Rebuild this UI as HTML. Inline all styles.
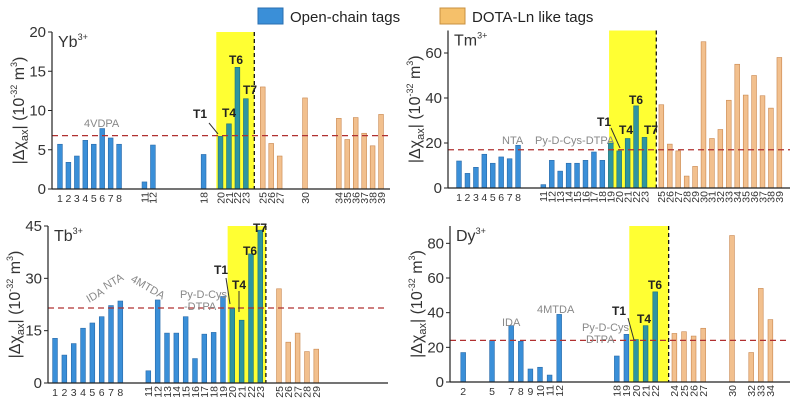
<!DOCTYPE html>
<html><head><meta charset="utf-8"><style>
body{margin:0;background:#fff;}
svg{display:block;font-family:"Liberation Sans",Arial,sans-serif;}
</style></head><body>
<svg id="fig" width="800" height="404" viewBox="0 0 800 404">
  <g>
    <rect x="258" y="8" width="25" height="16" fill="#3a8fd8" stroke="#2a6fb0"/>
    <text x="290" y="22" font-size="15" fill="#222">Open-chain tags</text>
    <rect x="440" y="8" width="25" height="16" fill="#f5c06a" stroke="#c89040"/>
    <text x="472" y="22" font-size="15" fill="#222">DOTA-Ln like tags</text>
  </g>
</svg>
<script>
// ---- data ----
const ybCats = [1,2,3,4,5,6,7,8,11,12,18,20,21,22,23,25,26,27,30,34,35,36,37,38,39];
const ybVals = [5.7,3.4,4.2,6.2,5.7,7.7,6.5,5.7,0.9,5.6,4.4,6.7,8.3,15.5,11.5,13,5.8,4.2,11.6,9,6.3,9.1,7.1,5.5,9.5];
const tmCats = [1,2,3,4,5,6,7,8,11,12,13,14,15,16,17,18,19,20,21,22,23,25,26,27,28,29,30,31,32,33,34,35,36,37,38,39];
const tmVals = [12,6.5,9.2,15,11,13.8,13,19,1.5,12.3,7.5,11,11,12.3,16,12.3,20,16.5,22,36.5,22.5,37,19.5,16.5,5.3,9.6,65,22,26,39,55,41.3,50,41,35.5,58];
const tbCats = [1,2,3,4,5,6,7,8,11,12,13,14,15,16,17,18,19,20,21,22,23,25,26,27,28,29];
const tbVals = [12.8,8,11.3,15.7,17.2,19,22.2,23.5,3.5,23.8,14.3,14.3,19,7,14,14.5,24.8,21.5,18,37,43.8,27,11.7,14.3,9,9.7];
const dyCats = [2,5,7,8,9,10,11,12,18,19,20,21,22,24,25,26,27,30,32,33,34];
const dyVals = [17,24,32.5,23.5,7.5,8.5,4,39,15,27.5,24.5,32.5,52,28,29,26.5,31,84.5,17,54,36];
const ybTicks = [0,5,10,15,20];
const tmTicks = [0,20,40,60];
const tbTicks = [0,15,30,45];
const dyTicks = [0,20,40,60,80];

const NS = "http://www.w3.org/2000/svg";
const svg = document.getElementById('fig');
function mk(tag, attrs, parent, txt){
  const e = document.createElementNS(NS, tag);
  for (const k in attrs) e.setAttribute(k, attrs[k]);
  if (txt !== undefined) e.textContent = txt;
  parent.appendChild(e);
  return e;
}

function panel(p){
  const g = mk('g', {}, svg);
  
  
  const y = v => p.y0 - (v / p.ymax) * (p.y0 - p.ytop);
  const x = n => p.a + p.b * n;
  const split = p.split;
  const hl = mk('rect', {x: x(p.hl[0]), y: p.ytop, width: x(p.hl[1]) - x(p.hl[0]), height: p.y0 - p.ytop, fill: '#ffff33'}, g);
  
  
  p.cats.forEach((c, i) => {
    const v = p.vals[i];
    const dota = c >= split;
    const inHl = !dota && c >= p.hl[0] && c <= p.hl[1];
    const fill = dota ? '#f2c08e' : (inHl ? '#2e95a0' : '#3a8fd8');
    const stroke = dota ? '#c8864e' : (inHl ? '#1f6f78' : '#2a6aa8');
    const r = mk('rect', {x: x(c) - 2.4, y: y(v), width: 4.8, height: p.y0 - y(v), fill: fill, stroke: stroke, 'stroke-width': 0.6}, g);
    
    
    let t;
    if (c < 10) {
      t = mk('text', {x: x(c), y: p.y0 + 13, 'font-size': 10.5, 'text-anchor': 'middle', fill: '#333'}, g, String(c));
    } else {
      t = mk('text', {x: 0, y: 0, 'font-size': 10.5, 'text-anchor': 'end', fill: '#333', transform: 'translate(' + (x(c) + 3.8) + ',' + (p.y0 + 3) + ') rotate(-90)'}, g, String(c));
    }
    
    
  });
  const dv = mk('line', {x1: x(p.hl[1]), x2: x(p.hl[1]), y1: p.ytop, y2: p.y0, stroke: '#111', 'stroke-width': 1.3, 'stroke-dasharray': '4,3'}, g);
  
  
  const th = mk('line', {x1: p.ax, x2: p.xend, y1: y(p.thr), y2: y(p.thr), stroke: '#b03030', 'stroke-width': 1.3, 'stroke-dasharray': '6,4'}, g);
  
  
  const ya = mk('line', {x1: p.ax, x2: p.ax, y1: p.ytop, y2: p.y0, stroke: '#222', 'stroke-width': 1.2}, g);
  
  
  const xa = mk('line', {x1: p.ax, x2: p.xend, y1: p.y0, y2: p.y0, stroke: '#222', 'stroke-width': 1.2}, g);
  
  
  p.ticks.forEach(tv => {
    const tk = mk('line', {x1: p.ax - 4, x2: p.ax, y1: y(tv), y2: y(tv), stroke: '#222', 'stroke-width': 1}, g);
    
    
    const tl = mk('text', {x: p.ax - 6, y: y(tv) + 5, 'font-size': 15, 'text-anchor': 'end', fill: '#333'}, g, String(tv));
    
    
  });
  const il = mk('text', {x: p.ax + 6, y: p.ytop + 15, 'font-size': 16, fill: '#333'}, g);
  
  
  il.innerHTML = p.ion + '<tspan font-size="9" dy="-7">3+</tspan>';
  const cy = (p.ytop + p.y0) / 2;
  const yt = mk('text', {x: 0, y: 0, 'font-size': 16, 'text-anchor': 'middle', fill: '#333', transform: 'translate(' + (p.ax - 28) + ',' + cy + ') rotate(-90)'}, g);
  
  
  yt.innerHTML = '|Δχ<tspan font-size="11" dy="4">ax</tspan><tspan dy="-4">| (10</tspan><tspan font-size="9" dy="-7">-32</tspan><tspan dy="7"> m</tspan><tspan font-size="9" dy="-7">3</tspan><tspan dy="7">)</tspan>';
  p.notes.forEach(nt => {
    const a = mk('text', {x: nt[1], y: nt[2], 'font-size': nt[3] || 12, fill: nt[4] || '#222', 'font-weight': nt[4] ? 'normal' : 'bold', transform: nt[5] ? 'rotate(' + nt[5] + ',' + nt[1] + ',' + nt[2] + ')' : ''}, g, nt[0]);
    
    
  });
  (p.arrows || []).forEach(ar => {
    const l = mk('line', {x1: ar[0], y1: ar[1], x2: ar[2], y2: ar[3], stroke: '#333', 'stroke-width': 1}, g);
    
    
  });
}

panel({name:'yb', ion:'Yb', cats:ybCats, vals:ybVals, ticks:ybTicks, ymax:20, y0:189, ytop:32, ax:52, xend:390, a:51.5, b:8.45, hl:[19.5,24], split:24.5, thr:6.8,
  notes:[['4VDPA',84,127,11,'#888'],['T1',193,118],['T4',222,117],['T6',229,64],['T7',243,94]], arrows:[[218,134,209,123]]});
panel({name:'tm', ion:'Tm', cats:tmCats, vals:tmVals, ticks:tmTicks, ymax:70, y0:188, ytop:30.5, ax:448, xend:790, a:450.6, b:8.43, hl:[18.8,24.4], split:24.5, thr:17,
  notes:[['NTA',502,144,11,'#888'],['Py-D-Cys-DTPA',535,144,11,'#888'],['T1',597,126],['T4',619,134],['T6',629,104],['T7',644,134]], arrows:[[620,148,611,128]]});
panel({name:'tb', ion:'Tb', cats:tbCats, vals:tbVals, ticks:tbTicks, ymax:45, y0:383, ytop:226, ax:48, xend:388, a:45.7, b:9.33, hl:[19.5,23.6], split:24.5, thr:21.5,
  notes:[['IDA',89,303,11,'#888',-30],['NTA',106,290,11,'#888',-30],['4MTDA',130,281,11,'#888',30],['Py-D-Cys',180,298,11,'#888'],['-DTPA',184,310,11,'#888'],['T1',214,274],['T4',232,289],['T6',243,255],['T7',253,232]],
  arrows:[[230,304,226,278],[239,312,239,291]]});
panel({name:'dy', ion:'Dy', cats:dyCats, vals:dyVals, ticks:dyTicks, ymax:90, y0:382, ytop:226, ax:450, xend:790, a:444, b:9.6, hl:[19.3,23.4], split:23.5, thr:24,
  notes:[['IDA',502,326,11,'#888'],['4MTDA',537,313,11,'#888'],['Py-D-Cys',582,331,11,'#888'],['DTPA',586,343,11,'#888'],['T1',612,315],['T4',637,323],['T6',648,289]],
  arrows:[[634,340,628,318]]});
</script>
</body></html>
